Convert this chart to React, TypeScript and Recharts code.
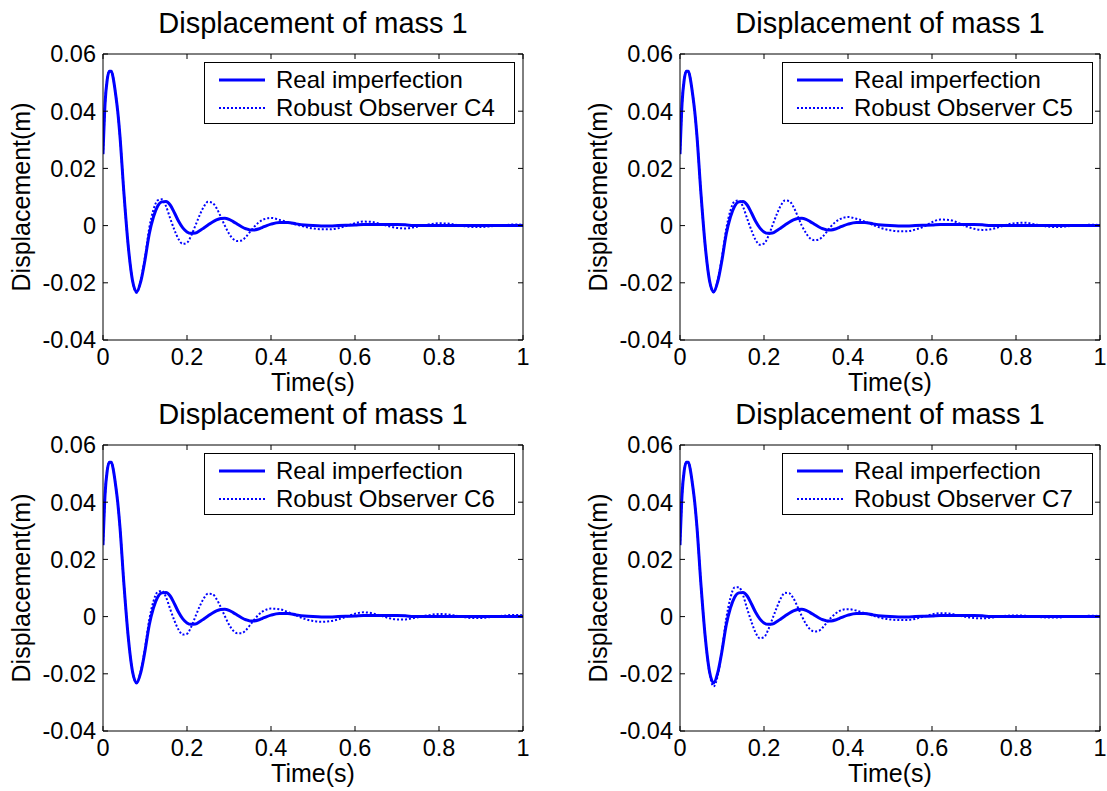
import React from 'react';
import { LineChart, Line, XAxis, YAxis, Legend } from 'recharts';

// ---------- data ----------
const timeS = [
  0, 0.005, 0.01, 0.015, 0.02, 0.025, 0.03, 0.035, 0.04,
  0.05, 0.06, 0.07, 0.08, 0.09, 0.1, 0.11, 0.12, 0.13, 0.14, 0.15, 0.16, 0.17, 0.18, 0.19,
  0.2, 0.21, 0.22, 0.23, 0.24, 0.25, 0.26, 0.27, 0.28, 0.29, 0.3, 0.31, 0.32, 0.33, 0.34,
  0.35, 0.36, 0.37, 0.38, 0.39, 0.4,
  0.42, 0.44, 0.46, 0.48, 0.5,
  0.52, 0.54, 0.56, 0.58, 0.6, 0.62, 0.64, 0.66, 0.68, 0.7, 0.72, 0.74, 0.76, 0.78, 0.8,
  0.82, 0.84, 0.86, 0.88, 0.9, 0.92, 0.94, 0.96, 0.98, 1.0,
];

const realImperfection = [
  0.025, 0.043, 0.051, 0.054, 0.054, 0.051, 0.046, 0.04, 0.032,
  0.011, -0.007, -0.019, -0.0232, -0.0195, -0.012, -0.003, 0.003, 0.0068, 0.0083, 0.0084, 0.0072, 0.0045, 0.0015, -0.0008,
  -0.0022, -0.0027, -0.0026, -0.0018, -0.0008, 0.0002, 0.0012, 0.002, 0.0025, 0.0026, 0.0022, 0.0014, 0.0005, -0.0004, -0.0011,
  -0.0015, -0.0015, -0.0012, -0.0006, 0, 0.0005,
  0.0011, 0.0011, 0.0006, 0.0002, 0,
  -0.0001, -0.0001, 0, 0.0001, 0.0002, 0.0004, 0.0004, 0.0004, 0.0004, 0.0004, 0.0003, 0, 0, 0, 0,
  0, 0, 0, 0, 0, 0, 0, 0, 0, 0,
];

const observerC4 = [
  0.025, 0.043, 0.051, 0.054, 0.054, 0.051, 0.046, 0.04, 0.032,
  0.011, -0.007, -0.019, -0.0235, -0.019, -0.011, -0.001, 0.0055, 0.0088, 0.0092, 0.0068, 0.0025, -0.0015, -0.0048, -0.0064,
  -0.006, -0.0035, 0, 0.0036, 0.0066, 0.0083, 0.008, 0.0062, 0.0032, 0, -0.0028, -0.0047, -0.0054, -0.0052, -0.004,
  -0.0022, -0.0004, 0.001, 0.002, 0.0025, 0.0027,
  0.002, 0.0012, 0.0004, -0.0004, -0.001,
  -0.0013, -0.0013, -0.0009, -0.0001, 0.0008, 0.0014, 0.0013, 0.0006, -0.0002, -0.0008, -0.001, -0.0006, 0, 0.0005, 0.0008,
  0.0007, 0.0003, -0.0002, -0.0005, -0.0005, -0.0003, 0, 0.0002, 0.0004, 0.0003,
];

const observerC5 = [
  0.025, 0.043, 0.051, 0.054, 0.054, 0.051, 0.046, 0.04, 0.032,
  0.011, -0.007, -0.019, -0.0233, -0.019, -0.011, -0.0012, 0.0052, 0.0085, 0.0088, 0.0066, 0.0024, -0.0016, -0.005, -0.0067,
  -0.0063, -0.0038, 0, 0.0038, 0.007, 0.0088, 0.0086, 0.0066, 0.0034, 0, -0.0026, -0.0045, -0.0051, -0.0049, -0.0038,
  -0.002, -0.0002, 0.0012, 0.0022, 0.0028, 0.003,
  0.0024, 0.0014, 0.0002, -0.0009, -0.0016,
  -0.002, -0.002, -0.0014, -0.0004, 0.0012, 0.0021, 0.002, 0.0011, -0.0002, -0.0011, -0.0015, -0.0013, -0.0005, 0.0004, 0.0009,
  0.001, 0.0006, 0, -0.0004, -0.0005, -0.0003, 0, 0.0002, 0.0003, 0.0002,
];

const observerC6 = [
  0.025, 0.043, 0.051, 0.054, 0.054, 0.051, 0.046, 0.04, 0.032,
  0.011, -0.007, -0.019, -0.0232, -0.019, -0.011, -0.0012, 0.0053, 0.0086, 0.009, 0.0068, 0.0026, -0.0014, -0.0046, -0.0063,
  -0.006, -0.0036, 0, 0.0035, 0.0064, 0.008, 0.0079, 0.0062, 0.0034, 0.0002, -0.0028, -0.0049, -0.0058, -0.0058, -0.0048,
  -0.003, -0.0011, 0.0006, 0.0018, 0.0025, 0.0028,
  0.0026, 0.0016, 0.0004, -0.0008, -0.0015,
  -0.0018, -0.0016, -0.001, 0, 0.001, 0.0015, 0.0012, 0.0004, -0.0005, -0.001, -0.001, -0.0005, 0.0001, 0.0006, 0.0009,
  0.0008, 0.0003, -0.0002, -0.0005, -0.0005, -0.0002, 0.0001, 0.0004, 0.0006, 0.0005,
];

const observerC7 = [
  0.025, 0.043, 0.051, 0.054, 0.054, 0.051, 0.046, 0.04, 0.032,
  0.011, -0.007, -0.0195, -0.0244, -0.0205, -0.0115, -0.0008, 0.0065, 0.0102, 0.0103, 0.0075, 0.0027, -0.0018, -0.0056, -0.0076,
  -0.0072, -0.0046, -0.0008, 0.003, 0.0064, 0.0083, 0.0082, 0.0064, 0.0034, 0.0002, -0.0026, -0.0045, -0.0052, -0.005, -0.0038,
  -0.002, -0.0003, 0.001, 0.002, 0.0025, 0.0026,
  0.0021, 0.0012, 0.0003, -0.0005, -0.001,
  -0.0012, -0.0012, -0.0008, 0, 0.0008, 0.0012, 0.0011, 0.0005, -0.0001, -0.0005, -0.0006, -0.0004, 0, 0.0003, 0.0004,
  0.0003, 0, -0.0002, -0.0003, -0.0003, -0.0001, 0.0001, 0.0002, 0.0003, 0.0002,
];

const xTicks = [0, 0.2, 0.4, 0.6, 0.8, 1];
const xTickLabels = ['0', '0.2', '0.4', '0.6', '0.8', '1'];
const yTicks = [-0.04, -0.02, 0, 0.02, 0.04, 0.06];
const yTickLabels = ['-0.04', '-0.02', '0', '0.02', '0.04', '0.06'];

const panelTitle = 'Displacement of mass 1';
const xAxisTitle = 'Time(s)';
const yAxisTitle = 'Displacement(m)';
const realName = 'Real imperfection';
const observerNames = ['Robust Observer C4', 'Robust Observer C5', 'Robust Observer C6', 'Robust Observer C7'];
const observerSeries = [observerC4, observerC5, observerC6, observerC7];

// ---------- styling ----------
const FONT = '"Liberation Sans", Arial, Helvetica, sans-serif';
const BLUE = '#0000ff';
const TS = 5;
const XM = 3;
const YM = 2;
const TICK_FONT = 23.5;
const LABEL_FONT = 25;
const TITLE_FONT = 29;
const LEGEND_FONT = 24;

const CHART_W = 553;
const CHART_H = 400;

function labelOf(list: number[], labels: string[], v: number) {
  const i = list.findIndex((t) => Math.abs(t - v) < 1e-9);
  return i >= 0 ? labels[i] : String(v);
}

function BottomTick(props: any) {
  const { x, y, payload } = props;
  const axisY = y - TS - XM;
  return (
    <g>
      <line x1={x} x2={x} y1={axisY} y2={axisY - TS} stroke="#000" strokeWidth={1} />
      <text x={x} y={y} dy="0.71em" textAnchor="middle" fontSize={TICK_FONT} fontFamily={FONT} fill="#000">
        {labelOf(xTicks, xTickLabels, payload.value)}
      </text>
    </g>
  );
}

function TopTick(props: any) {
  const { x, y } = props;
  const axisY = y + TS;
  return <line x1={x} x2={x} y1={axisY} y2={axisY + TS} stroke="#000" strokeWidth={1} />;
}

function LeftTick(props: any) {
  const { x, y, payload } = props;
  const axisX = x + TS + YM;
  return (
    <g>
      <line x1={axisX} x2={axisX + TS} y1={y} y2={y} stroke="#000" strokeWidth={1} />
      <text x={x} y={y} dy="0.355em" textAnchor="end" fontSize={TICK_FONT} fontFamily={FONT} fill="#000">
        {labelOf(yTicks, yTickLabels, payload.value)}
      </text>
    </g>
  );
}

function RightTick(props: any) {
  const { x, y } = props;
  const axisX = x - TS;
  return <line x1={axisX} x2={axisX - TS} y1={y} y2={y} stroke="#000" strokeWidth={1} />;
}

function LegendBox({ obsName }: { obsName: string }) {
  const row = (dash: boolean, text: string, top: number) => (
    <div style={{ position: 'absolute', left: 0, top, height: 0, width: '100%' }}>
      <svg width={60} height={6} style={{ position: 'absolute', left: 12, top: -3 }}>
        <line x1={2} x2={48} y1={3} y2={3} stroke={BLUE} strokeWidth={dash ? 2 : 3} strokeDasharray={dash ? '2 2' : undefined} />
      </svg>
      <div style={{ position: 'absolute', left: 71, top: -15, lineHeight: '30px', fontSize: LEGEND_FONT, fontFamily: FONT, color: '#000', whiteSpace: 'nowrap' }}>
        {text}
      </div>
    </div>
  );
  return (
    <div style={{ position: 'relative', width: 311, height: 62, boxSizing: 'border-box', border: '1px solid #000', background: '#fff' }}>
      {row(false, realName, 17)}
      {row(true, obsName, 45)}
    </div>
  );
}

function Panel({ left, top, obsIndex, legendLeft }: { left: number; top: number; obsIndex: number; legendLeft: number }) {
  const obs = observerSeries[obsIndex];
  const data = timeS.map((t, i) => ({ t, real: realImperfection[i], obs: obs[i] }));
  return (
    <div style={{ position: 'absolute', left, top, width: CHART_W, height: CHART_H }}>
      <LineChart width={CHART_W} height={CHART_H} data={data} margin={{ top: 53, right: 29, bottom: 9, left: 0 }}>
        <XAxis
          dataKey="t"
          type="number"
          domain={[0, 1]}
          allowDataOverflow
          ticks={xTicks}
          interval={0}
          height={51}
          tickSize={TS}
          tickMargin={XM}
          tickLine={false}
          axisLine={{ stroke: '#000', strokeWidth: 1 }}
          tick={<BottomTick />}
          label={(p: any) => {
            const vb = p.viewBox || {};
            return (
              <text x={vb.x + vb.width / 2} y={vb.y + 51} textAnchor="middle" fontSize={LABEL_FONT} fontFamily={FONT} fill="#000">
                {xAxisTitle}
              </text>
            );
          }}
        />
        <XAxis
          xAxisId="top"
          orientation="top"
          dataKey="t"
          type="number"
          domain={[0, 1]}
          allowDataOverflow
          ticks={xTicks}
          interval={0}
          height={1}
          tickSize={TS}
          tickMargin={0}
          tickLine={false}
          axisLine={{ stroke: '#000', strokeWidth: 1 }}
          tick={<TopTick />}
          label={(p: any) => {
            const vb = p.viewBox || {};
            return (
              <text x={vb.x + vb.width / 2} y={vb.y + vb.height - 21} textAnchor="middle" fontSize={TITLE_FONT} fontFamily={FONT} fill="#000">
                {panelTitle}
              </text>
            );
          }}
        />
        <YAxis
          type="number"
          domain={[-0.04, 0.06]}
          allowDataOverflow
          ticks={yTicks}
          interval={0}
          width={103}
          tickSize={TS}
          tickMargin={YM}
          tickLine={false}
          axisLine={{ stroke: '#000', strokeWidth: 1 }}
          tick={<LeftTick />}
          label={(p: any) => {
            const vb = p.viewBox || {};
            const cx = vb.x + 30;
            const cy = vb.y + vb.height / 2;
            return (
              <text x={cx} y={cy} transform={`rotate(-90 ${cx} ${cy})`} textAnchor="middle" fontSize={LABEL_FONT} fontFamily={FONT} fill="#000">
                {yAxisTitle}
              </text>
            );
          }}
        />
        <YAxis
          yAxisId="right"
          orientation="right"
          type="number"
          domain={[-0.04, 0.06]}
          allowDataOverflow
          ticks={yTicks}
          interval={0}
          width={1}
          tickSize={TS}
          tickMargin={0}
          tickLine={false}
          axisLine={{ stroke: '#000', strokeWidth: 1 }}
          tick={<RightTick />}
        />
        <Legend
          layout="vertical"
          align="center"
          verticalAlign="middle"
          wrapperStyle={{ left: legendLeft, top: 62, width: 311, height: 62 }}
          content={() => <LegendBox obsName={observerNames[obsIndex]} />}
        />
        <Line type="monotone" dataKey="real" name={realName} stroke={BLUE} strokeWidth={3} dot={false} isAnimationActive={false} />
        <Line
          type="monotone"
          dataKey="obs"
          xAxisId="top"
          yAxisId="right"
          name={observerNames[obsIndex]}
          stroke={BLUE}
          strokeWidth={2}
          strokeDasharray="2 2"
          dot={false}
          isAnimationActive={false}
        />
      </LineChart>
    </div>
  );
}

export default function App() {
  return (
    <div style={{ position: 'absolute', left: 0, top: 0, width: 1107, height: 791, background: '#fff', fontFamily: FONT, overflow: 'hidden' }}>
      <Panel left={0} top={0} obsIndex={0} legendLeft={204} />
      <Panel left={577} top={0} obsIndex={1} legendLeft={205} />
      <Panel left={0} top={391} obsIndex={2} legendLeft={204} />
      <Panel left={577} top={391} obsIndex={3} legendLeft={205} />
    </div>
  );
}
